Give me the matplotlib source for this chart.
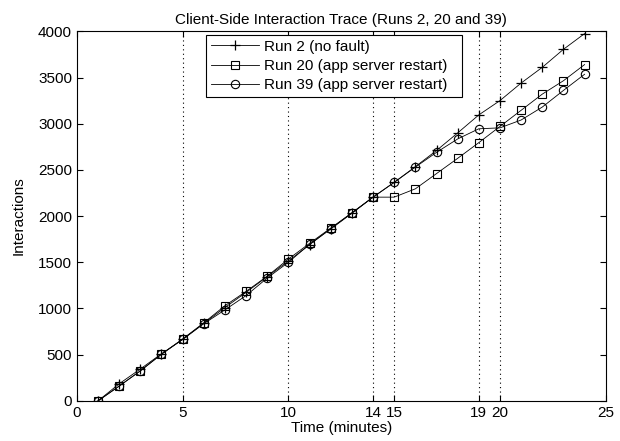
import matplotlib
matplotlib.use("Agg")
import matplotlib.pyplot as plt

minutes = list(range(1, 25))
run2 = [0, 185, 345, 510, 665, 840, 1010, 1175, 1345, 1515, 1690, 1865, 2035, 2205,
        2365, 2535, 2710, 2900, 3095, 3250, 3440, 3610, 3805, 3975]
run20 = [0, 160, 325, 505, 670, 845, 1030, 1185, 1350, 1535, 1705, 1870, 2035, 2205,
         2205, 2295, 2460, 2625, 2795, 2970, 3145, 3320, 3465, 3640]
run39 = [0, 160, 325, 505, 665, 835, 985, 1140, 1330, 1500, 1695, 1860, 2030, 2205,
         2365, 2530, 2690, 2835, 2945, 2955, 3040, 3180, 3360, 3535]
xticks = [0, 5, 10, 14, 15, 19, 20, 25]
grid_x = [5, 10, 14, 15, 19, 20]
yticks = list(range(0, 4001, 500))
labels = ["Run 2 (no fault)", "Run 20 (app server restart)", "Run 39 (app server restart)"]

plt.rcParams['font.family'] = ['Liberation Sans', 'DejaVu Sans']
fig = plt.figure(figsize=(6.2, 4.41), dpi=100)
ax = fig.add_axes([0.124, 0.091, 0.853, 0.838])

for gx in grid_x:
    ax.axvline(gx, color='black', linestyle=(0, (1, 3)), linewidth=0.8, zorder=0)

ax.plot(minutes, run2, color='black', linewidth=0.6, marker='+', markersize=7.5,
        markeredgewidth=0.9, label=labels[0])
ax.plot(minutes, run20, color='black', linewidth=0.6, marker='s', markersize=6,
        markerfacecolor='none', markeredgewidth=0.8, label=labels[1])
ax.plot(minutes, run39, color='black', linewidth=0.6, marker='o', markersize=6,
        markerfacecolor='none', markeredgewidth=0.8, label=labels[2])

ax.set_xlim(0, 25)
ax.set_ylim(0, 4000)
ax.set_xticks(xticks)
ax.set_yticks(yticks)
ax.tick_params(direction='in', top=True, right=True, labelsize=11, length=4, width=0.8)
for s in ax.spines.values():
    s.set_linewidth(0.8)

ax.set_title("Client-Side Interaction Trace (Runs 2, 20 and 39)", fontsize=11, pad=5)
ax.set_xlabel("Time (minutes)", fontsize=11, labelpad=1)
ax.set_ylabel("Interactions", fontsize=11, labelpad=9)

leg = ax.legend(loc='upper left', bbox_to_anchor=(0.244, 0.0, 0.484, 0.99),
                mode='expand', fontsize=11, frameon=True, fancybox=False,
                edgecolor='black', framealpha=1, handlelength=3.2, handletextpad=0.3,
                borderpad=0.3, labelspacing=0.35, borderaxespad=0)
leg.get_frame().set_linewidth(0.8)

fig.savefig("out.png", dpi=100)
